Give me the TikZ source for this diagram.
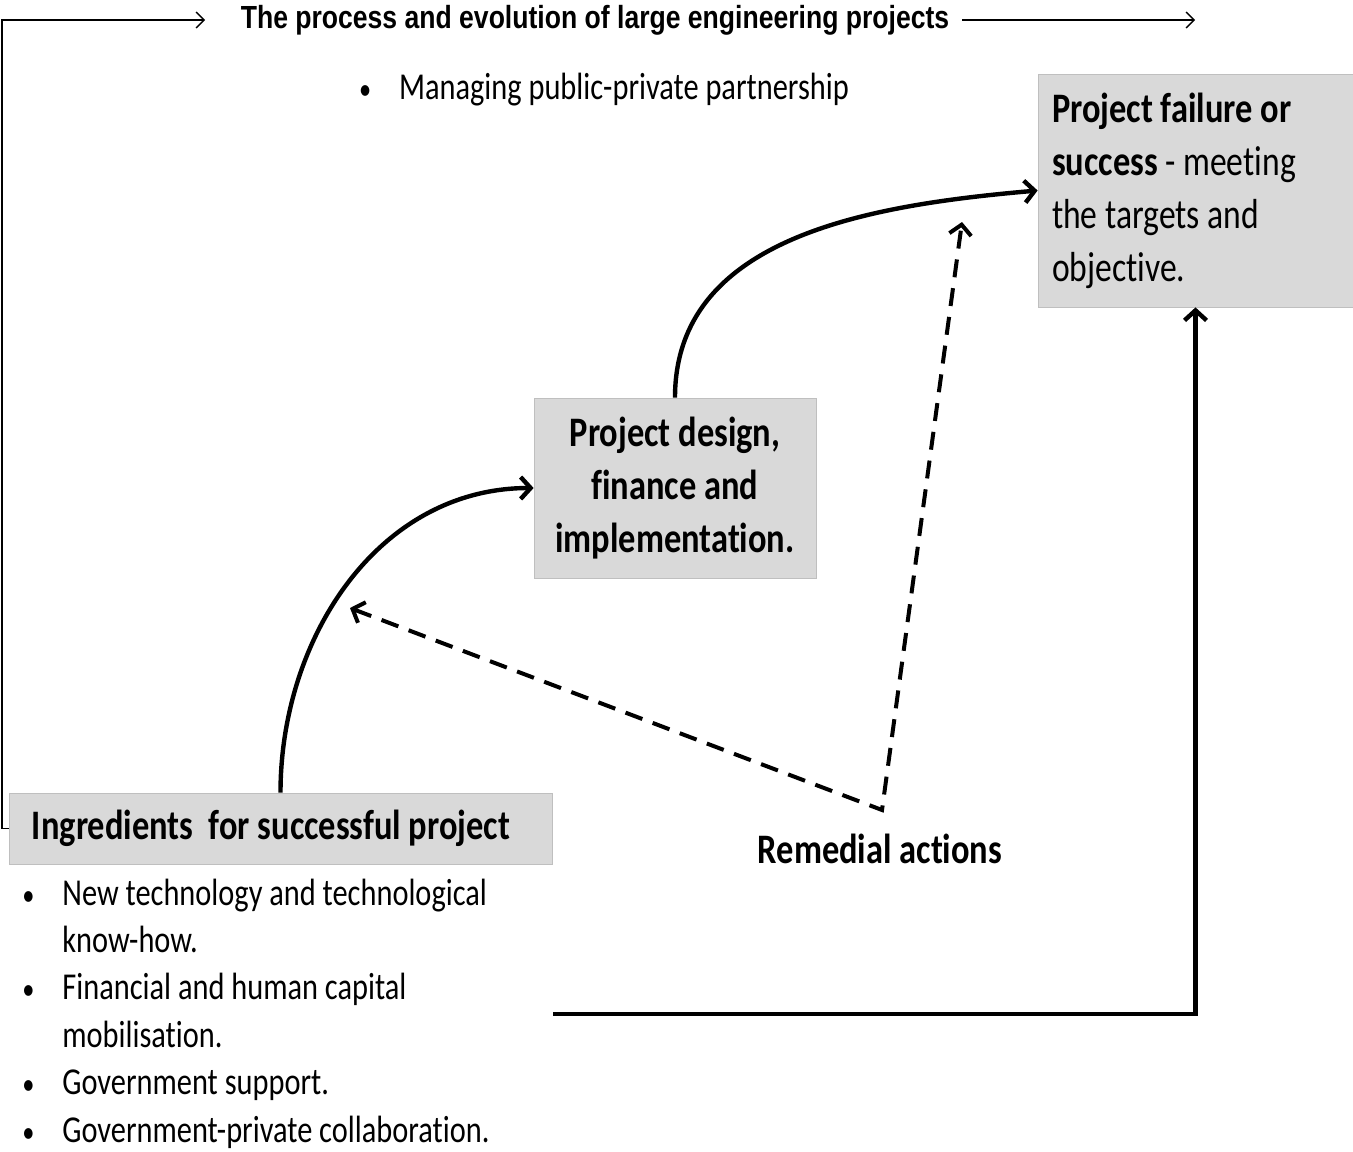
\documentclass[tikz,border=0pt]{standalone}
\usepackage{fontspec}
\setmainfont[FakeStretch=0.8,Ligatures=NoCommon,BoldFeatures={FakeStretch=0.82}]{Carlito}
\newfontfamily\titlefont[FakeStretch=0.83]{Liberation Sans}
\usetikzlibrary{arrows.meta,positioning}

\begin{document}
\begin{tikzpicture}[x=0.5pt,y=-0.5pt,>={Straight Barb[length=5pt,width=11pt]}]
\tikzstyle{every node}=[font=\fontsize{21}{26.5}\selectfont]
\tikzstyle{stage}=[draw=black!25,fill=black!15,inner sep=0pt]
\tikzstyle{flow}=[->,line width=2.2pt]
\tikzstyle{remedy}=[<->,line width=2pt,dash pattern=on 9pt off 5.5pt]
\tikzstyle{thin flow}=[-{Straight Barb[length=4pt,width=8pt]},line width=0.7pt]
\newcommand{\bul}{\makebox[20pt][l]{\scalebox{0.8}{•}}}
\useasboundingbox (0,0) rectangle (1353,1151);

\node [font=\titlefont\bfseries\fontsize{16}{19}\selectfont] (title) at (595,20)
  {The process and evolution of large engineering projects};
\node [anchor=west,font=\fontsize{19}{23.7}\selectfont] (ppp) at (352,90)
  {\bul Managing public-private partnership};

\node [stage,minimum width=157.5pt,minimum height=116.5pt,text width=143.5pt,align=flush left] (fail) at (1195.5,190.5)
  {\textbf{Project failure or}\\\textbf{success} - meeting\\the targets and\\objective.};
\node [stage,minimum width=141pt,minimum height=90pt,align=center,font=\bfseries\fontsize{21}{26.5}\selectfont] (design) at (675,488)
  {Project design,\\finance and\\implementation.};
\node [stage,minimum width=271.5pt,minimum height=35.5pt,text width=248.5pt,align=flush left] (ingr) at (280.5,828.5)
  {\textbf{Ingredients\ \ for successful project}};
\node [font=\bfseries\fontsize{21}{26.5}\selectfont] (remedy) at (880,849) {Remedial actions};
\node [anchor=west,align=left,inner sep=0pt,font=\fontsize{19}{23.7}\selectfont] (list) at (22,1013.5)
  {\bul New technology and technological\\
   \hspace*{20pt}know-how.\\
   \bul Financial and human capital\\
   \hspace*{20pt}mobilisation.\\
   \bul Government support.\\
   \bul Government-private collaboration.};

\coordinate (loop) at (2,20);
\coordinate (loopend) at (205,20);
\coordinate (runend) at (1195,20);
\coordinate (corner) at (882,810);
\coordinate (back) at (350,608);
\coordinate (up) at (962,222);
\coordinate (direct) at (553,1014);

% evolution line
\draw [thin flow] (ingr.west) -| (loop) -- (loopend);
\draw [thin flow] ([xshift=3pt]title.east) -- (runend);

% stages
\draw [flow] (ingr.north) to[out=90,in=180] (design.west);
\draw [flow] (design.north) to[out=90,in=185] (fail.west);
\draw [flow] (direct) -| (fail.south);

% remedial actions
\draw [remedy] (back) -- (corner) -- (up);
\end{tikzpicture}
\end{document}
